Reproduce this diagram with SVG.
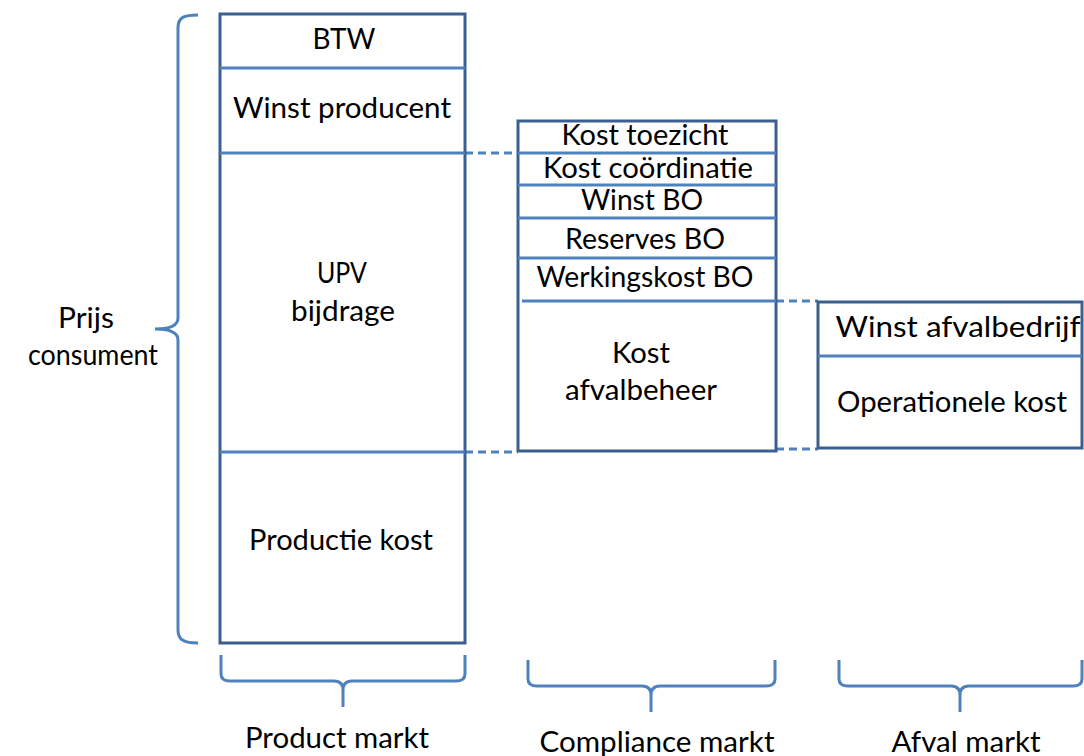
<svg xmlns="http://www.w3.org/2000/svg" width="1084" height="756" viewBox="0 0 1084 756">
<style>
.box{fill:#fff;stroke:#3B6090;stroke-width:3}
.div{stroke:#4F81BD;stroke-width:3;fill:none}
.dash{stroke:#4F81BD;stroke-width:3;fill:none;stroke-dasharray:8,5}
.brace{stroke:#4F81BD;stroke-width:3;fill:none}
text{font-family:Lato,"Open Sans","Liberation Sans",sans-serif;font-size:28px;fill:#000;text-anchor:middle}
</style>
<rect width="1084" height="756" fill="#fff"/>
<g id="connectors">
<line class="dash" x1="465" y1="153" x2="518" y2="153"/>
<line class="dash" x1="465" y1="452" x2="518" y2="452"/>
<line class="dash" x1="776" y1="301" x2="818" y2="301"/>
<line class="dash" x1="776" y1="449" x2="818" y2="449"/>
</g>
<g id="product">
<rect class="box" x="220" y="14" width="245" height="629"/>
<line class="div" x1="220" y1="68" x2="465" y2="68"/>
<line class="div" x1="220" y1="153" x2="465" y2="153"/>
<line class="div" x1="220" y1="452" x2="465" y2="452"/>
<text x="344" y="49" textLength="63" lengthAdjust="spacingAndGlyphs">BTW</text>
<text x="342" y="118" textLength="218" lengthAdjust="spacingAndGlyphs">Winst producent</text>
<text x="342" y="283" textLength="50" lengthAdjust="spacingAndGlyphs">UPV</text>
<text x="343" y="321" textLength="104" lengthAdjust="spacingAndGlyphs">bijdrage</text>
<text x="341" y="550" textLength="184" lengthAdjust="spacingAndGlyphs">Productie kost</text>
</g>
<g id="compliance">
<rect class="box" x="518" y="121" width="258" height="330"/>
<line class="div" x1="518" y1="153" x2="776" y2="153"/>
<line class="div" x1="518" y1="185" x2="776" y2="185"/>
<line class="div" x1="518" y1="218" x2="776" y2="218"/>
<line class="div" x1="518" y1="258" x2="776" y2="258"/>
<line class="div" x1="522" y1="301" x2="776" y2="301"/>
<text x="645" y="145" textLength="167" lengthAdjust="spacingAndGlyphs">Kost toezicht</text>
<text x="648" y="178" textLength="210" lengthAdjust="spacingAndGlyphs">Kost coördinatie</text>
<text x="642" y="210" textLength="122" lengthAdjust="spacingAndGlyphs">Winst BO</text>
<text x="645" y="249" textLength="160" lengthAdjust="spacingAndGlyphs">Reserves BO</text>
<text x="645" y="287" textLength="217" lengthAdjust="spacingAndGlyphs">Werkingskost BO</text>
<text x="641" y="363" textLength="58" lengthAdjust="spacingAndGlyphs">Kost</text>
<text x="641" y="400" textLength="152" lengthAdjust="spacingAndGlyphs">afvalbeheer</text>
</g>
<g id="afval">
<rect class="box" x="818" y="302" width="264" height="146"/>
<line class="div" x1="818" y1="356" x2="1082" y2="356"/>
<text x="958" y="337" textLength="245" lengthAdjust="spacingAndGlyphs">Winst afvalbedrijf</text>
<text x="952" y="412" textLength="230" lengthAdjust="spacingAndGlyphs">Operationele kost</text>
</g>
<g id="prijs">
<path class="brace" d="M198,15 C184,15 178,17 178,28 L178,318 C178,326 170,329 155,329 C170,329 178,332 178,340 L178,630 C178,640 184,643 198,643"/>
<text x="86" y="328" textLength="56" lengthAdjust="spacingAndGlyphs">Prijs</text>
<text x="93" y="365" textLength="130" lengthAdjust="spacingAndGlyphs">consument</text>
</g>
<g id="product-markt">
<path class="brace" d="M221,655 V674 Q221,681 230,681 H334 Q343,681 343,690 V707 M343,690 Q343,681 352,681 H456 Q465,681 465,674 V655"/>
<text x="337" y="748" textLength="184" lengthAdjust="spacingAndGlyphs">Product markt</text>
</g>
<g id="compliance-markt">
<path class="brace" d="M528,660 V679 Q528,686 537,686 H642 Q651,686 651,695 V712 M651,695 Q651,686 660,686 H766 Q775,686 775,679 V660"/>
<text x="657" y="752" textLength="235" lengthAdjust="spacingAndGlyphs">Compliance markt</text>
</g>
<g id="afval-markt">
<path class="brace" d="M839,660 V679 Q839,686 848,686 H951 Q960,686 960,695 V712 M960,695 Q960,686 969,686 H1073 Q1082,686 1082,679 V660"/>
<text x="966" y="752" textLength="149" lengthAdjust="spacingAndGlyphs">Afval markt</text>
</g>
</svg>
